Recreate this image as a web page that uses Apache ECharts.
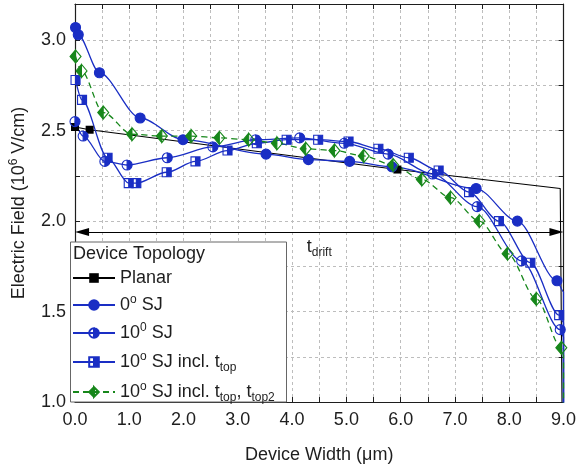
<!DOCTYPE html>
<html>
<head>
<meta charset="utf-8">
<script src="https://cdn.jsdelivr.net/npm/echarts@6/dist/echarts.min.js"></script>
<style>
html, body { margin: 0; padding: 0; background: #fff; }
#grafico { width: 579px; height: 472px; }
</style>
</head>
<body>
<div id="grafico"></div>
<script>
// puntos con marcador [x (um), E (10^6 V/cm)]
const planar = [[0.0, 2.52], [0.27, 2.505], [5.94, 2.285]];
const planarCola = [[8.94, 2.18], [9.0, 0.0]];

const sj0 = [[0.01, 3.07], [0.06, 3.03], [0.45, 2.82], [1.2, 2.57], [1.99, 2.45], [3.52, 2.37],
    [4.3, 2.34], [5.06, 2.33], [5.84, 2.30], [7.39, 2.18], [8.15, 2.0], [8.88, 1.67]];
const sj0Cola = [[9.0, 1.61], [9.0, 0.0]];

const sj10 = [[0.0, 2.55], [0.15, 2.47], [0.55, 2.33], [0.96, 2.31], [1.7, 2.35], [2.54, 2.41],
    [3.33, 2.45], [4.14, 2.46], [4.96, 2.43], [5.77, 2.37], [6.59, 2.26], [7.41, 2.08],
    [8.23, 1.78], [8.94, 1.40]];
const sj10Cola = [[9.0, 1.36], [9.0, 0.0]];

const sjTop = [[0.01, 2.78], [0.13, 2.67], [0.6, 2.35], [0.99, 2.21], [1.13, 2.21], [1.69, 2.27],
    [2.22, 2.33], [2.81, 2.39], [3.35, 2.43], [3.9, 2.45], [4.48, 2.45], [5.04, 2.44],
    [5.59, 2.40], [6.15, 2.35], [6.7, 2.28], [7.26, 2.16], [7.81, 2.0], [8.39, 1.77], [8.92, 1.48]];
const sjTopCola = [[9.0, 1.44], [9.0, 0.0]];

const sjTop2 = [[0.01, 2.91], [0.12, 2.83], [0.52, 2.60], [1.05, 2.48], [1.6, 2.47], [2.14, 2.47],
    [2.66, 2.46], [3.2, 2.45], [3.72, 2.43], [4.25, 2.40], [4.78, 2.39], [5.32, 2.36],
    [5.86, 2.31], [6.39, 2.23], [6.92, 2.13], [7.45, 2.0], [7.97, 1.82], [8.5, 1.57], [8.96, 1.30]];
const sjTop2Cola = [[9.0, 1.26], [9.0, 0.0]];

const nombres = ['Planar', '0 SJ', '10 SJ', '10 SJ ttop', '10 SJ ttop ttop2'];
const etiquetas = {
    'Planar': 'Planar',
    '0 SJ': '0{sup|o} SJ',
    '10 SJ': '10{sup|0} SJ',
    '10 SJ ttop': '10{sup|o} SJ incl. t{sub|top}',
    '10 SJ ttop ttop2': '10{sup|o} SJ incl. t{sub|top}, t{sub|top2}'
};

const deriva = [[0.13, 1.94], [8.87, 1.94]];

const AZUL = '#1a2ec4';
const VERDE = '#17871b';
const TINTA = '#1e1e1e';
const FUENTE = '"Liberation Sans", Arial, sans-serif';

// marcadores medio rellenos: contorno completo + mitad en sentido contrario (queda sin relleno)
const CIRCULO_MEDIO = 'path://M10,0 A10,10 0 0,1 10,20 A10,10 0 0,1 10,0 Z M10,0 A10,10 0 0,0 10,20 L10,0 Z';
const CUADRO_MEDIO = 'path://M0,0 L20,0 L20,20 L0,20 Z M0,0 L0,20 L10,20 L10,0 Z';
const ROMBO_MEDIO = 'path://M10,0 L20,13 L10,26 L0,13 Z M10,0 L10,26 L20,13 Z';

const richTexto = {
    sup: { fontSize: 12, lineHeight: 20, padding: [0, 0, 10, 0], fontFamily: FUENTE, color: TINTA },
    sub: { fontSize: 12, lineHeight: 20, padding: [12, 0, 0, 0], fontFamily: FUENTE, color: TINTA }
};

function puntos(marcas, cola) {
    return marcas.concat(cola.map(function (p) {
        return { value: p, symbol: 'none' };
    }));
}

function serieLinea(nombre, marcas, cola, color, simbolo, tam, discontinua) {
    return {
        name: nombre,
        type: 'line',
        data: puntos(marcas, cola),
        smooth: 0.3,
        smoothMonotone: 'x',
        showAllSymbol: true,
        symbol: simbolo,
        symbolSize: tam,
        lineStyle: { color: color, width: 1.3, type: discontinua ? [6, 4] : 'solid' },
        itemStyle: { color: color, borderColor: color, borderWidth: 1.1 },
        z: 2
    };
}

const grafico = echarts.init(document.getElementById('grafico'));

const ejeComun = {
    axisLine: { show: true, onZero: false, lineStyle: { color: TINTA, width: 1.2 } },
    axisTick: { show: true, inside: true, length: 5, lineStyle: { color: TINTA, width: 1 } }
};

grafico.setOption({
    animation: false,
    textStyle: { fontFamily: FUENTE },
    grid: { left: 70.5, right: 14, top: 4, bottom: 70 },
    xAxis: [{
        type: 'value', min: 0, max: 9, interval: 0.5, position: 'bottom',
        axisLine: ejeComun.axisLine, axisTick: ejeComun.axisTick,
        axisLabel: {
            margin: 9, fontSize: 18, color: TINTA, fontFamily: FUENTE,
            formatter: function (v) {
                return Math.abs(v - Math.round(v)) < 1e-6 ? v.toFixed(1) : '';
            }
        },
        splitLine: { show: true, lineStyle: { color: '#bdbdbd', type: [3, 3], width: 1 } },
        name: 'Device Width (μm)', nameLocation: 'middle', nameGap: 44,
        nameTextStyle: { fontSize: 18, color: TINTA, fontFamily: FUENTE }
    }, {
        type: 'value', min: 0, max: 9, interval: 0.5, position: 'top',
        axisLine: ejeComun.axisLine, axisTick: ejeComun.axisTick,
        axisLabel: { show: false }, splitLine: { show: false }
    }],
    yAxis: [{
        type: 'value', min: 1.0, max: 3.2, interval: 0.25, position: 'left',
        axisLine: ejeComun.axisLine, axisTick: ejeComun.axisTick,
        axisLabel: {
            margin: 9, fontSize: 18, color: TINTA, fontFamily: FUENTE,
            formatter: function (v) {
                const d = v * 2;
                return (Math.abs(d - Math.round(d)) < 1e-6 && v <= 3.0001) ? v.toFixed(1) : '';
            }
        },
        splitLine: { show: true, lineStyle: { color: '#bdbdbd', type: [3, 3], width: 1 } },
        name: 'Electric Field (10{sup|6} V/cm)', nameLocation: 'middle', nameGap: 46,
        nameTextStyle: { fontSize: 18, color: TINTA, fontFamily: FUENTE, rich: richTexto }
    }, {
        type: 'value', min: 1.0, max: 3.2, interval: 0.25, position: 'right',
        axisLine: ejeComun.axisLine, axisTick: ejeComun.axisTick,
        axisLabel: { show: false }, splitLine: { show: false }
    }],
    legend: {
        orient: 'vertical', left: 72, top: 268, padding: 0,
        itemGap: 6, itemWidth: 42, itemHeight: 12,
        data: nombres,
        formatter: function (n) { return etiquetas[n]; },
        textStyle: { fontSize: 18, lineHeight: 20, color: TINTA, fontFamily: FUENTE, rich: richTexto },
        z: 7
    },
    graphic: [{
        type: 'rect', z: 6.5, silent: true,
        shape: { x: 70.5, y: 242, width: 216, height: 160 },
        style: { fill: '#fff', stroke: '#666', lineWidth: 1 }
    }, {
        type: 'text', z: 7, silent: true, left: 73, top: 245,
        style: { text: 'Device Topology', fontSize: 18, fill: TINTA, fontFamily: FUENTE }
    }],
    series: [
        {
            name: 'Planar', type: 'line',
            data: puntos(planar, planarCola),
            showAllSymbol: true, symbol: 'rect', symbolSize: 8,
            lineStyle: { color: '#000', width: 1.1 },
            itemStyle: { color: '#000' },
            z: 2,
            markLine: {
                silent: true,
                symbol: ['triangle', 'triangle'],
                symbolSize: [[8, 14], [8, 14]],
                lineStyle: { color: '#000', width: 1, type: 'solid' },
                label: {
                    show: true, position: 'insideMiddleBottom', distance: 5,
                    formatter: 't{sub|drift}', fontSize: 18, lineHeight: 20, color: TINTA,
                    fontFamily: FUENTE, rich: richTexto
                },
                data: [[{ coord: deriva[0], symbolSize: [8, 14] }, { coord: deriva[1], symbolSize: [8, 14] }]]
            }
        },
        serieLinea('0 SJ', sj0, sj0Cola, AZUL, 'circle', 10, false),
        serieLinea('10 SJ', sj10, sj10Cola, AZUL, CIRCULO_MEDIO, 10, false),
        serieLinea('10 SJ ttop', sjTop, sjTopCola, AZUL, CUADRO_MEDIO, 9, false),
        serieLinea('10 SJ ttop ttop2', sjTop2, sjTop2Cola, VERDE, ROMBO_MEDIO, [11, 13], true)
    ]
});
</script>
</body>
</html>
